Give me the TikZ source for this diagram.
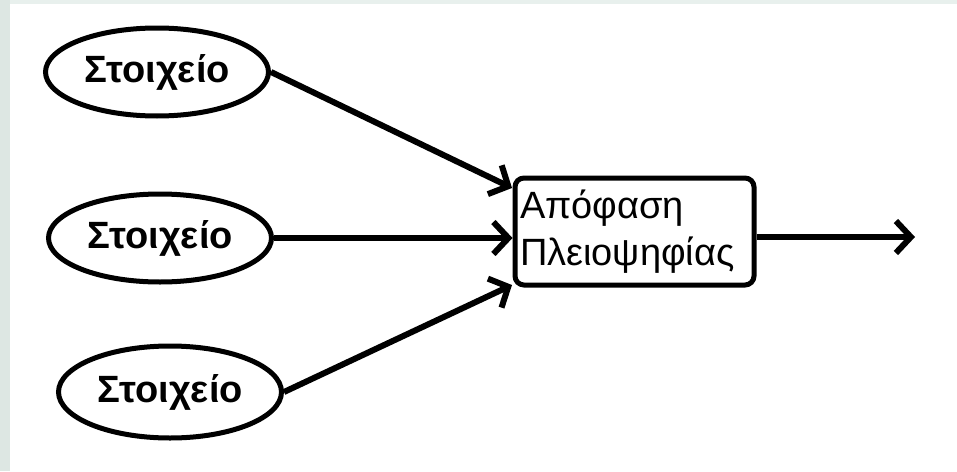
\documentclass[tikz,border=0pt]{standalone}
\usepackage{fontspec}
\setmainfont{Liberation Sans}
\usetikzlibrary{positioning, calc, shapes.geometric, arrows.meta}
\definecolor{sidebar}{HTML}{DDE7E3}
\definecolor{topbar}{HTML}{E8F0ED}
\tikzset{elem/.style={ellipse, draw, line width=5pt, minimum width=223pt, minimum height=88pt, inner sep=0pt, font=\fontsize{38}{44}\selectfont\bfseries}}
\tikzset{vote/.style={draw, rounded corners=9pt, line width=5pt, minimum width=239pt, minimum height=107pt, inner sep=5pt, align=left, font=\fontsize{38}{47}\selectfont}}
\tikzset{arr/.style={draw, line width=6pt, -{Straight Barb[length=15pt, width=32pt, line width=6pt]}}}

\begin{document}
\begin{tikzpicture}[x=1pt, y=1pt]
	\useasboundingbox (0,0) rectangle (957,-471);
	\fill[white] (0,0) rectangle (957,-471);
	\fill[sidebar] (0,0) rectangle (10,-471);
	\fill[topbar] (10,0) rectangle (957,-4);

	\node[elem] (E1) at (157,-72){Στοιχείο};
	\node[elem] (E2) at (160,-238){Στοιχείο};
	\node[elem, minimum height=92pt] (E3) at (170,-392){Στοιχείο};
	\node[vote, text width=229pt] (V) at (634.5,-231.5){Απόφαση\\Πλειοψηφίας};

	\coordinate (in1) at (512,-188);
	\coordinate (in3) at (512,-285);
	\coordinate (out) at (915,-237);

	\draw[arr] (E1.east) -- (in1);
	\draw[arr] (E2.east) -- (E2.east -| V.west);
	\draw[arr] (E3.east) -- (in3);
	\draw[arr] (V.east |- out) -- (out);
\end{tikzpicture}
\end{document}
